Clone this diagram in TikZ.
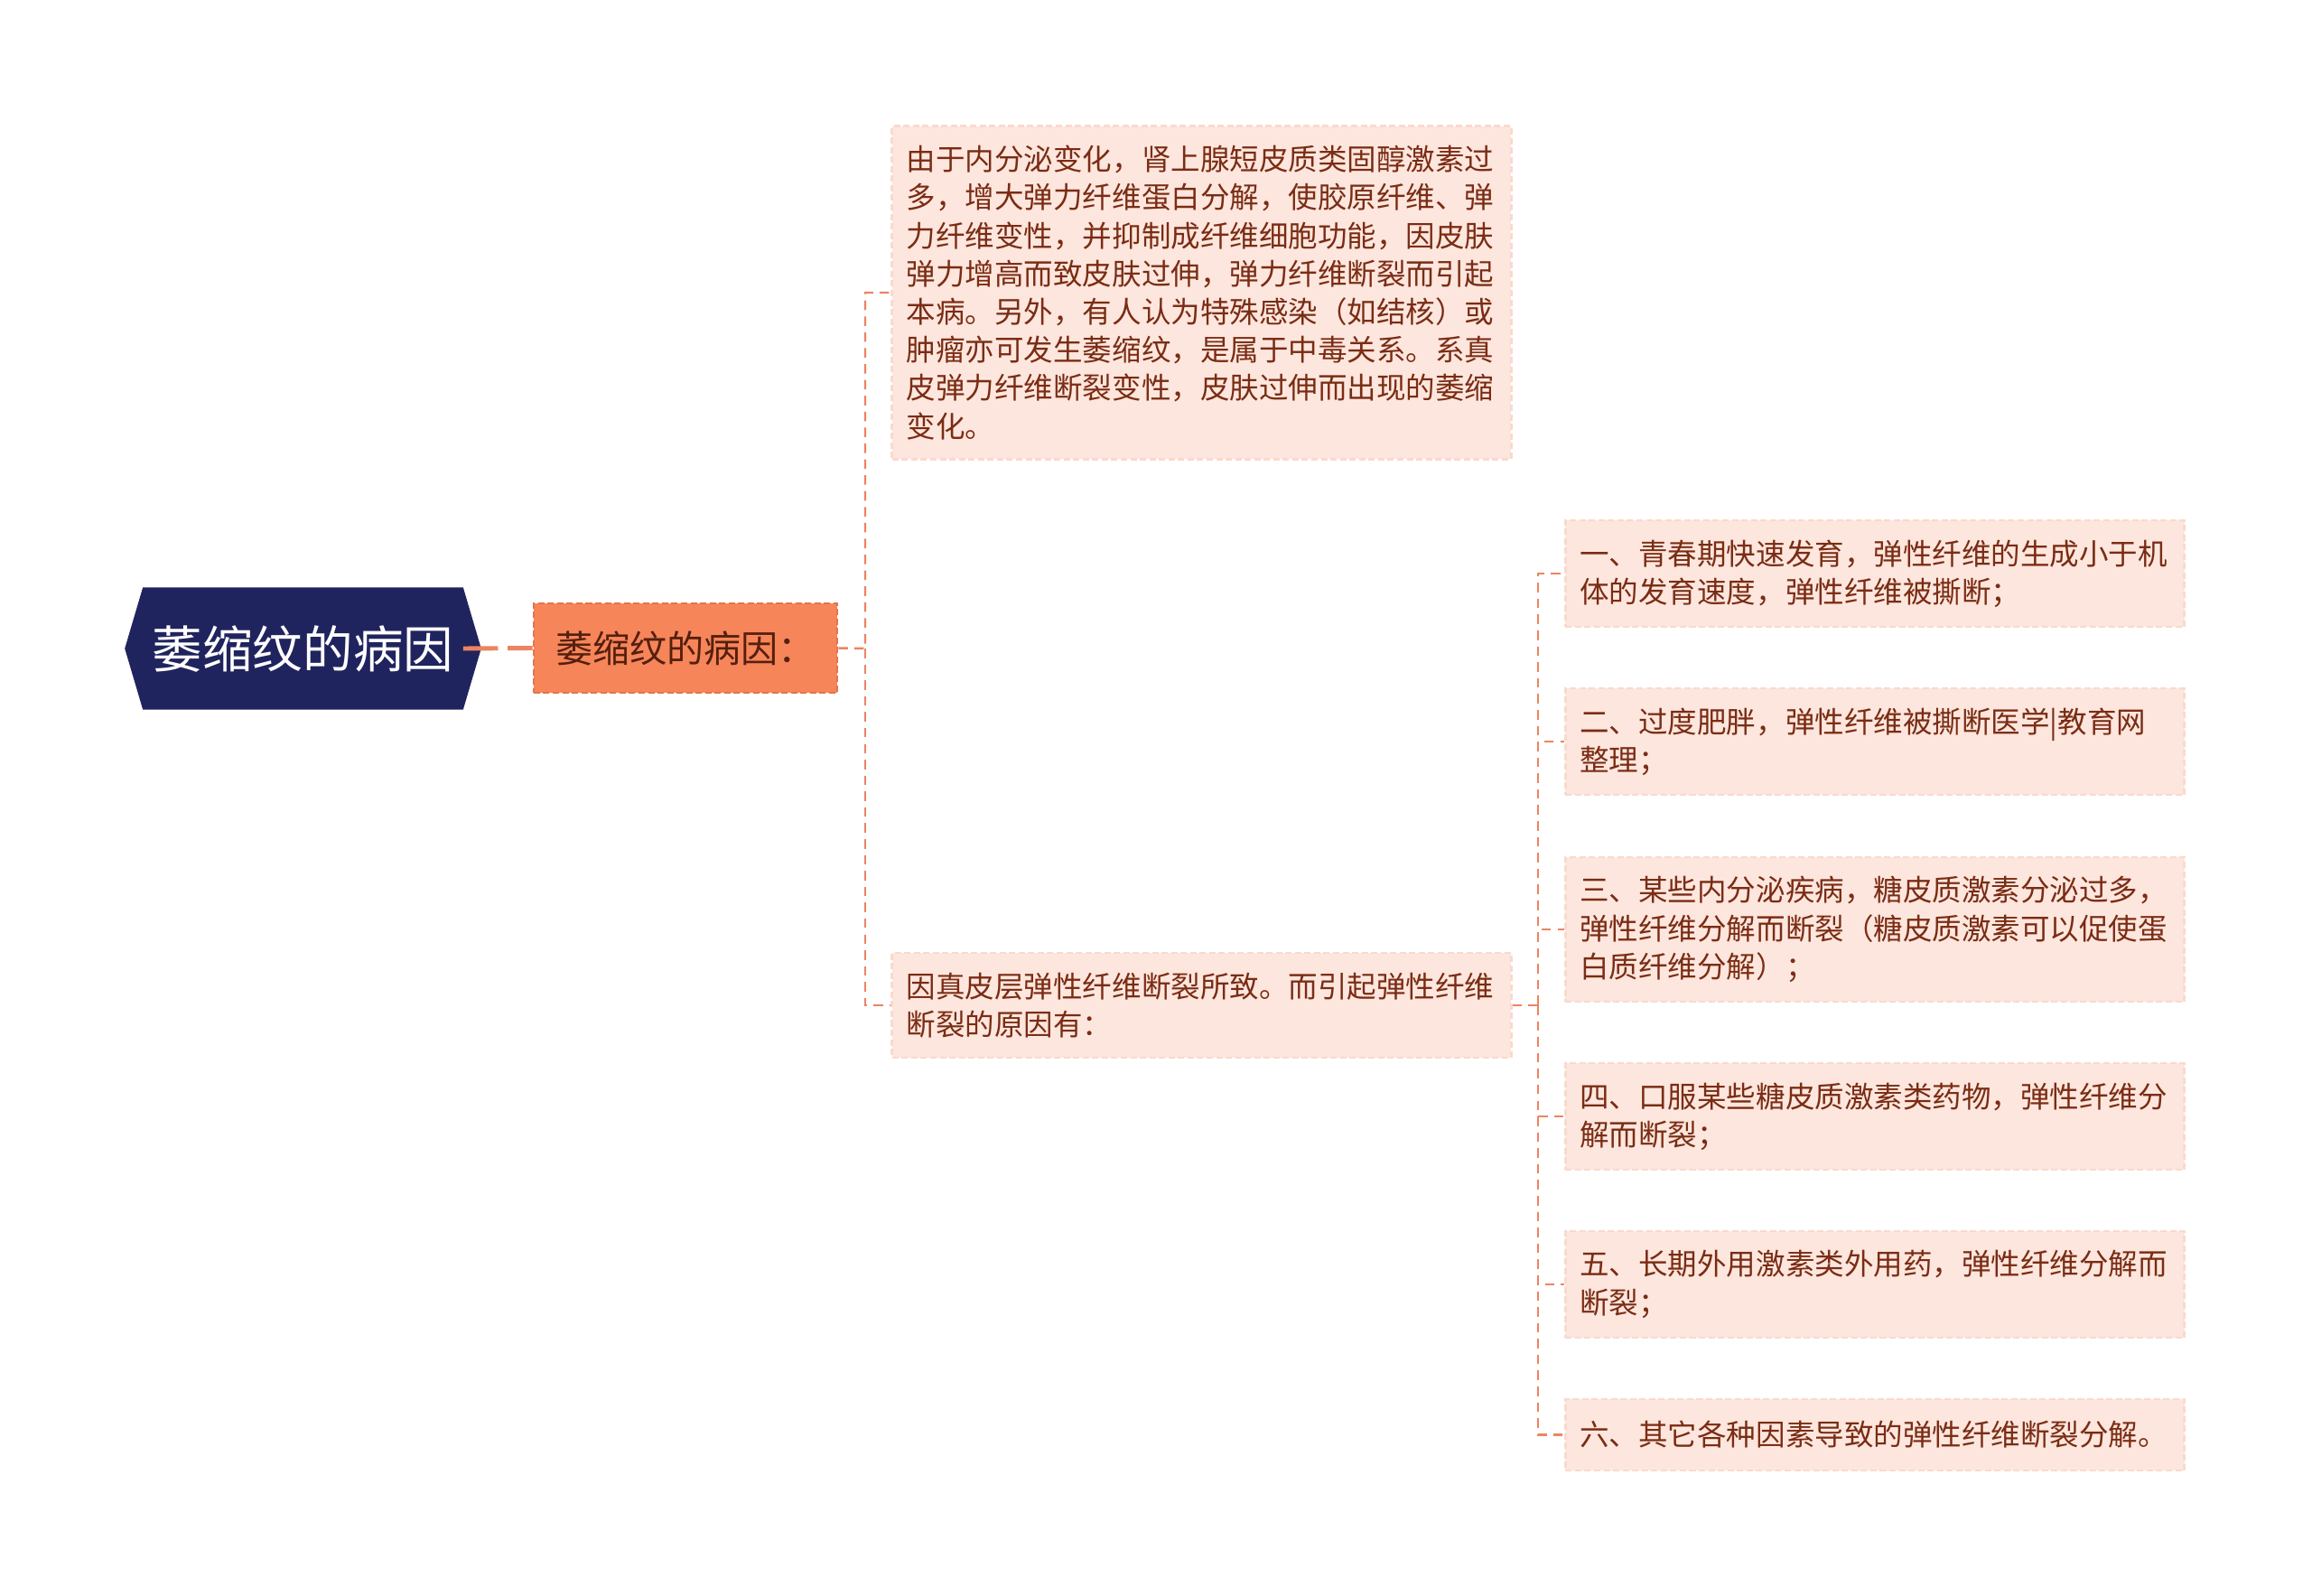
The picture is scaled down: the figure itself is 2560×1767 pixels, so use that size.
\documentclass[tikz,border=0pt]{standalone}
\usepackage{fontspec}
\setmainfont{Noto Sans CJK SC}
\usepackage{tikz}
\usetikzlibrary{calc,backgrounds}
\definecolor{navy}{HTML}{20245E}
\definecolor{coral}{HTML}{F6855A}
\definecolor{coralline}{HTML}{E4744C}
\definecolor{peach}{HTML}{FDE6DD}
\definecolor{peachline}{HTML}{F9DACD}
\definecolor{brown}{HTML}{7A2C14}
\definecolor{linkc}{HTML}{EC8461}

\begin{document}
\begin{tikzpicture}[x=0.01cm, y=-0.01cm,
	link/.style={draw=linkc, line width=0.7pt, dash pattern=on 3pt off 2pt},
	rootbox/.style={minimum width=3.53cm, minimum height=1.34cm, inner sep=0pt,
		text=white, font=\fontsize{15.8}{18}\selectfont},
	topicbox/.style={fill=coral, draw=coralline, line width=0.7pt, dash pattern=on 2pt off 1pt,
		minimum width=3.36cm, minimum height=0.99cm, inner sep=0pt,
		text=brown!70!black, font=\fontsize{11.7}{14}\selectfont},
	leafbox/.style={fill=peach, draw=peachline, line width=0.8pt, dash pattern=on 2pt off 1pt,
		text width=6.53cm, inner xsep=0.16cm, inner ysep=0pt, align=left,
		text=brown, font=\fontsize{9.25}{12}\selectfont}]
	\useasboundingbox (0,0) rectangle (2560,1767);
	
	% root and first level
	\node[rootbox] (root) at (335.5,718) {萎缩纹的病因};
	\node[topicbox] (cause) at (759,717.5) {萎缩纹的病因：};
	
	% second level
	\node[leafbox, minimum height=3.68cm] (detail) at (1330.5,324) {由于内分泌变化，肾上腺短皮质类固醇激素过\\多，增大弹力纤维蛋白分解，使胶原纤维、弹\\力纤维变性，并抑制成纤维细胞功能，因皮肤\\弹力增高而致皮肤过伸，弹力纤维断裂而引起\\本病。另外，有人认为特殊感染（如结核）或\\肿瘤亦可发生萎缩纹，是属于中毒关系。系真\\皮弹力纤维断裂变性，皮肤过伸而出现的萎缩\\变化。};
	\node[leafbox, minimum height=1.16cm] (reason) at (1330.5,1113) {因真皮层弹性纤维断裂所致。而引起弹性纤维\\断裂的原因有：};
	
	% third level
	\node[leafbox, minimum height=1.18cm] (r1) at (2076,635) {一、青春期快速发育，弹性纤维的生成小于机\\体的发育速度，弹性纤维被撕断；};
	\node[leafbox, minimum height=1.18cm] (r2) at (2076,821) {二、过度肥胖，弹性纤维被撕断医学|教育网\\整理；};
	\node[leafbox, minimum height=1.60cm] (r3) at (2076,1029) {三、某些内分泌疾病，糖皮质激素分泌过多，\\弹性纤维分解而断裂（糖皮质激素可以促使蛋\\白质纤维分解）；};
	\node[leafbox, minimum height=1.18cm] (r4) at (2076,1236) {四、口服某些糖皮质激素类药物，弹性纤维分\\解而断裂；};
	\node[leafbox, minimum height=1.18cm] (r5) at (2076,1422) {五、长期外用激素类外用药，弹性纤维分解而\\断裂；};
	\node[leafbox, minimum height=0.79cm] (r6) at (2076,1588.5) {六、其它各种因素导致的弹性纤维断裂分解。};
	
	% connectors
	\coordinate (j1) at (958,718);
	\coordinate (j2) at (1703,1113);
	\draw[link, line width=1.4pt, dash pattern=on 11pt off 3pt] (root.east) -- (cause.west);
	\draw[link] (cause.east) -- (j1) |- (detail.west);
	\draw[link] (j1) |- (reason.west);
	\draw[link] (reason.east) -- (j2);
	\foreach \n in {r1,r2,r3,r4,r5,r6}
		\draw[link] (j2) |- (\n.west);
	
	\begin{scope}[on background layer]
		\fill[white] (0,0) rectangle (2560,1767);
		% hexagon behind the root text
		\fill[navy] (root.north west) -- (root.north east) -- ([xshift=0.2cm]root.east)
			-- (root.south east) -- (root.south west) -- ([xshift=-0.2cm]root.west) -- cycle;
	\end{scope}
\end{tikzpicture}
\end{document}
